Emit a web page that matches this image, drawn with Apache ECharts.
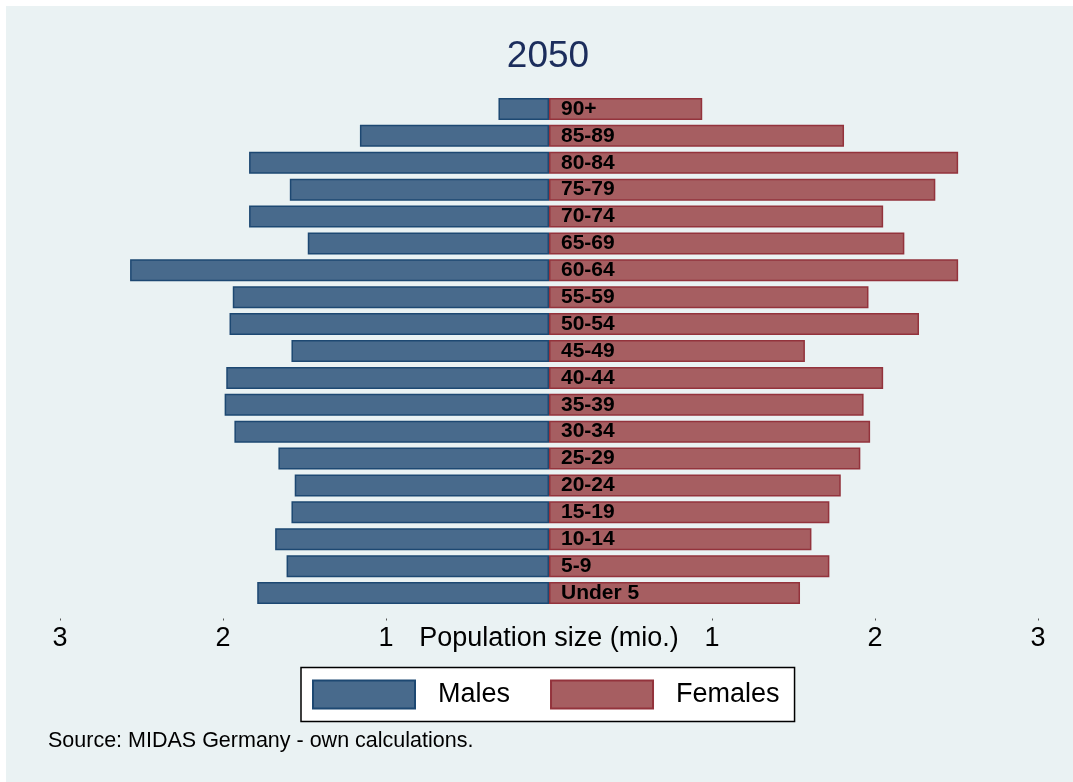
<!DOCTYPE html>
<html>
<head>
<meta charset="utf-8">
<script src="https://cdn.jsdelivr.net/npm/echarts@6/dist/echarts.min.js"></script>
<style>
  html, body { margin: 0; padding: 0; background: #fff; }
  #chart { position: absolute; left: 6px; top: 6px; width: 1067px; height: 776px; }
</style>
</head>
<body>
<div id="chart"></div>
<script>
// age groups, top to bottom
var ageGroups = ['90+', '85-89', '80-84', '75-79', '70-74', '65-69', '60-64', '55-59', '50-54', '45-49',
  '40-44', '35-39', '30-34', '25-29', '20-24', '15-19', '10-14', '5-9', 'Under 5']
// population in millions
var males = [0.31, 1.16, 1.84, 1.59, 1.84, 1.48, 2.57, 1.94, 1.96, 1.58,
  1.98, 1.99, 1.93, 1.66, 1.56, 1.58, 1.68, 1.61, 1.79]
var females = [0.94, 1.81, 2.51, 2.37, 2.05, 2.18, 2.51, 1.96, 2.27, 1.57,
  2.05, 1.93, 1.97, 1.91, 1.79, 1.72, 1.61, 1.72, 1.54]
var xTicks = [-3, -2, -1, 1, 2, 3]
var titleText = '2050'
var axisTitle = 'Population size (mio.)'
var sourceText = 'Source: MIDAS Germany - own calculations.'

var fontFamily = '"Liberation Sans", Arial, sans-serif'
var maleColor = '#486a8c'
var maleBorder = '#1d4872'
var femaleColor = '#a65e61'
var femaleBorder = '#93333c'

var myChart = echarts.init(document.getElementById('chart'))
var option = {
  backgroundColor: '#eaf2f3',
  animation: false,
  textStyle: { fontFamily: fontFamily },
  grid: {
    left: 54,
    right: 35,
    top: 89.5,
    bottom: 175.5,
    containLabel: false
  },
  graphic: [
    {
      type: 'text',
      x: 542,
      y: 51,
      style: {
        text: titleText,
        fontSize: 37,
        fontFamily: fontFamily,
        fill: '#1c2d5c',
        align: 'center',
        verticalAlign: 'middle'
      }
    },
    {
      type: 'text',
      x: 42,
      y: 735,
      style: {
        text: sourceText,
        fontSize: 21.5,
        fontFamily: fontFamily,
        fill: '#000',
        align: 'left',
        verticalAlign: 'middle'
      }
    }
  ],
  legend: {
    left: 295,
    top: 661.5,
    orient: 'horizontal',
    backgroundColor: '#fff',
    borderColor: '#000',
    borderWidth: 1.5,
    borderRadius: 0,
    padding: [12, 15, 12, 11],
    itemWidth: 102,
    itemHeight: 28,
    itemGap: 40,
    icon: 'rect',
    textStyle: {
      color: '#000',
      fontSize: 27,
      fontFamily: fontFamily,
      padding: [0, 0, 0, 18]
    },
    data: ['Males', 'Females']
  },
  xAxis: {
    type: 'value',
    min: -3,
    max: 3,
    interval: 1,
    offset: 12,
    axisLine: { show: false },
    axisTick: {
      show: true,
      length: 2,
      customValues: xTicks,
      lineStyle: { color: '#555', width: 1 }
    },
    splitLine: { show: false },
    axisLabel: {
      color: '#000',
      fontSize: 27,
      margin: 7,
      formatter: function (v) {
        return v === 0 ? axisTitle : String(Math.abs(v))
      }
    }
  },
  yAxis: {
    type: 'category',
    inverse: true,
    data: ageGroups,
    axisLine: { show: false },
    axisTick: { show: false },
    axisLabel: { show: false },
    splitLine: { show: false }
  },
  series: [
    {
      name: 'Males',
      type: 'bar',
      barWidth: 22,
      barGap: '-100%',
      itemStyle: {
        color: maleColor,
        borderColor: maleBorder,
        borderWidth: 1.5
      },
      data: males.map(function (v) { return -v })
    },
    {
      name: 'Females',
      type: 'bar',
      barWidth: 22,
      barGap: '-100%',
      itemStyle: {
        color: femaleColor,
        borderColor: femaleBorder,
        borderWidth: 1.5
      },
      label: {
        show: true,
        position: 'insideLeft',
        distance: 12,
        formatter: '{b}',
        color: '#000',
        fontSize: 21,
        fontWeight: 'bold',
        fontFamily: fontFamily
      },
      data: females
    }
  ]
}
myChart.setOption(option)
</script>
</body>
</html>
